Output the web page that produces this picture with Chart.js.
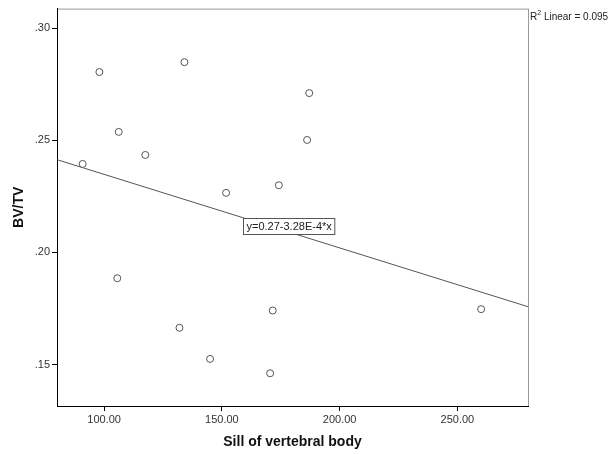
<!DOCTYPE html>
<html>
<head>
<meta charset="utf-8">
<script src="https://cdn.jsdelivr.net/npm/chart.js@4/dist/chart.umd.min.js"></script>
<style>
  html, body { margin: 0; padding: 0; background: #fff; }
  #wrap { width: 613px; height: 454px; }
</style>
</head>
<body>
<div id="wrap"><canvas id="scatter" width="613" height="454"></canvas></div>
<script>
// Sill of vertebral body vs BV/TV
var sill = [90.9, 98.0, 106.2, 117.5, 134.1, 151.8, 174.2, 187.1, 186.2, 105.6, 132.0, 145.0, 171.6, 170.5, 260.1];
var bvtv = [0.2395, 0.2805, 0.2538, 0.2435, 0.2849, 0.2266, 0.2300, 0.2711, 0.2502, 0.1885, 0.1664, 0.1525, 0.1741, 0.1461, 0.1747];
var fitX = [80, 280];
var fitY = [0.2414, 0.1758];
var xTicks = [100, 150, 200, 250];
var yTicks = [0.15, 0.20, 0.25, 0.30];
var fitLabel = 'y=0.27-3.28E-4*x';
var r2Text = '0.095';

var points = sill.map(function (v, i) { return { x: v, y: bvtv[i] }; });
var fitLine = fitX.map(function (v, i) { return { x: v, y: fitY[i] }; });

Chart.defaults.font.family = '"Liberation Sans", Arial, sans-serif';
Chart.defaults.color = '#333';

var frame = {
  id: 'frame',
  beforeDraw: function (chart) {
    var a = chart.chartArea, c = chart.ctx;
    c.save();
    c.strokeStyle = '#999';
    c.lineWidth = 1;
    c.strokeRect(a.left + 0.5, a.top + 0.5, a.right - a.left, a.bottom - a.top);
    c.restore();
  },
  afterDraw: function (chart) {
    var a = chart.chartArea, c = chart.ctx;
    var xs = chart.scales.x, ys = chart.scales.y;
    // equation box near the middle of the fit line
    var mx = xs.getPixelForValue(180);
    var my = ys.getPixelForValue((fitY[0] + fitY[1]) / 2);
    c.save();
    c.font = '11px "Liberation Sans", Arial, sans-serif';
    var w = c.measureText(fitLabel).width + 6;
    var bx = Math.round(mx - w / 2 - 4) + 0.5, by = Math.round(my - 15) + 0.5;
    c.fillStyle = '#fff';
    c.fillRect(bx, by, w, 16);
    c.strokeStyle = '#555';
    c.strokeRect(bx, by, w, 16);
    c.fillStyle = '#222';
    c.textBaseline = 'middle';
    c.fillText(fitLabel, bx + 3, by + 8.5);
    // R squared note
    c.font = '10px "Liberation Sans", Arial, sans-serif';
    var tx = a.right + 2, ty = 17;
    c.fillText('R', tx, ty);
    var rw = c.measureText('R').width;
    c.font = '7px "Liberation Sans", Arial, sans-serif';
    c.fillText('2', tx + rw, ty - 4);
    var sw = c.measureText('2').width;
    c.font = '10px "Liberation Sans", Arial, sans-serif';
    c.fillText(' Linear = ' + r2Text, tx + rw + sw, ty);
    c.restore();
  }
};

new Chart(document.getElementById('scatter').getContext('2d'), {
  type: 'scatter',
  data: {
    datasets: [{
      data: points,
      pointRadius: 3.5,
      pointHoverRadius: 3.5,
      pointBorderWidth: 1,
      pointBorderColor: '#555',
      pointBackgroundColor: '#fff'
    }, {
      type: 'line',
      data: fitLine,
      borderColor: '#555',
      borderWidth: 1,
      pointRadius: 0,
      fill: false
    }]
  },
  options: {
    responsive: false,
    animation: false,
    events: [],
    layout: { padding: { left: 0, right: 85, top: 6, bottom: 0 } },
    plugins: { legend: { display: false }, tooltip: { enabled: false } },
    scales: {
      x: {
        type: 'linear',
        min: 80,
        max: 280,
        afterBuildTicks: function (s) { s.ticks = xTicks.map(function (v) { return { value: v }; }); },
        afterFit: function (s) { s.height = 48; },
        ticks: {
          color: '#333',
          font: { size: 11 },
          padding: 2,
          maxRotation: 0,
          callback: function (v) { return v.toFixed(2); }
        },
        grid: { display: true, drawOnChartArea: false, drawTicks: true, tickLength: 5, color: '#000' },
        border: { display: true, color: '#000' },
        title: { display: true, text: 'Sill of vertebral body', font: { size: 14, weight: 'bold' }, color: '#111', padding: { top: 2, bottom: 3 } }
      },
      y: {
        type: 'linear',
        min: 0.1315,
        max: 0.3088,
        afterBuildTicks: function (s) { s.ticks = yTicks.map(function (v) { return { value: v }; }); },
        afterFit: function (s) { s.width = 57; },
        ticks: {
          color: '#333',
          font: { size: 11 },
          padding: 2,
          callback: function (v) { return '.' + v.toFixed(2).slice(2); }
        },
        grid: { display: true, drawOnChartArea: false, drawTicks: true, tickLength: 5, color: '#000' },
        border: { display: true, color: '#000' },
        title: { display: true, text: 'BV/TV', font: { size: 14, weight: 'bold' }, color: '#111', padding: { top: 11, bottom: 0 } }
      }
    }
  },
  plugins: [frame]
});
</script>
</body>
</html>
